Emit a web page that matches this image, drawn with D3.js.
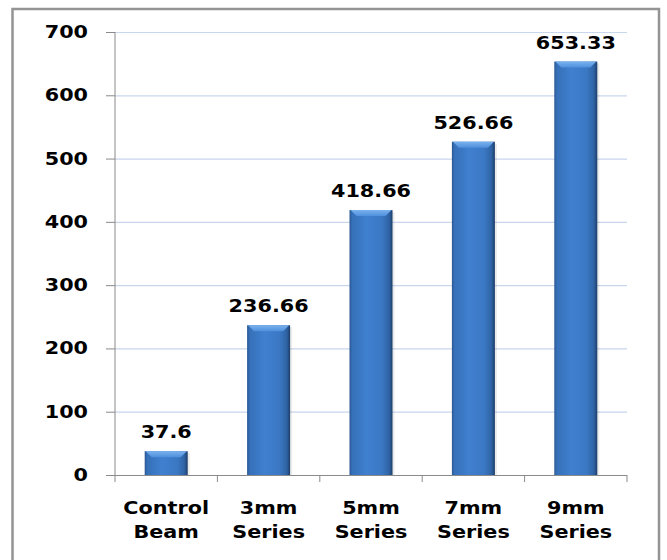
<!DOCTYPE html>
<html><head><meta charset="utf-8">
<script src="https://cdn.jsdelivr.net/npm/d3@7"></script>
<style>body{margin:0;background:#fff;} text{font-family:"DejaVu Sans",Verdana,sans-serif;font-weight:bold;fill:#000;}</style>
</head><body>
<svg id="chart" width="667" height="560"></svg>
<script>
const categories = [["Control","Beam"],["3mm","Series"],["5mm","Series"],["7mm","Series"],["9mm","Series"]];
const values = [37.6, 236.66, 418.66, 526.66, 653.33];
const labels = ["37.6","236.66","418.66","526.66","653.33"];
const yTicks = [0,100,200,300,400,500,600,700];

const SX = 1.22, FS = 17;
const svg = d3.select("#chart");
const m = {left:115, right:627, top:32, bottom:475};
svg.append("rect").attr("x",12.5).attr("y",9).attr("width",646.5).attr("height",560)
  .attr("fill","#fff").attr("stroke","#949494").attr("stroke-width",2.5);

const x = d3.scaleBand().domain(d3.range(categories.length)).range([m.left,m.right]).paddingInner(0.58).paddingOuter(0.29);
const xb = d3.scaleBand().domain(d3.range(categories.length)).range([m.left,m.right]);
const y = d3.scaleLinear().domain([0,700]).range([m.bottom,m.top]);

const defs = svg.append("defs");
const g = defs.append("linearGradient").attr("id","bar").attr("x1","0").attr("x2","1").attr("y1","0").attr("y2","0");
[[0,"#2a5692"],[0.06,"#3670b8"],[0.4,"#3f80cf"],[0.75,"#3b78c4"],[0.92,"#2f63a4"],[1,"#1d3d6a"]].forEach(([o,c])=>g.append("stop").attr("offset",o).attr("stop-color",c));
const gt = defs.append("linearGradient").attr("id","topb").attr("x1","0").attr("x2","0").attr("y1","0").attr("y2","1");
gt.append("stop").attr("offset",0).attr("stop-color","#7ab2ee");
gt.append("stop").attr("offset",1).attr("stop-color","#4f8fdc");

// gridlines
svg.append("g").selectAll("line").data(yTicks.filter(d=>d>0)).join("line")
  .attr("x1",m.left).attr("x2",m.right).attr("y1",d=>y(d)+0.5).attr("y2",d=>y(d)+0.5)
  .attr("stroke","#c8d6ee").attr("stroke-width",1.2);

// y axis
const ya = svg.append("g").attr("transform",`translate(${m.left},0)`)
  .call(d3.axisLeft(y).tickValues(yTicks).tickSize(9).tickFormat(d3.format("d")));
ya.select(".domain").attr("stroke","#8a8a8a").attr("d",`M0,${m.top}V${m.bottom}`);
ya.selectAll(".tick line").attr("stroke","#8a8a8a");
ya.selectAll(".tick text").attr("font-size",FS).attr("font-family","DejaVu Sans").attr("font-weight","bold").attr("fill","#000")
  .attr("x",-27/SX).attr("transform",`scale(${SX},1)`);

// x axis
const xa = svg.append("g").attr("transform",`translate(0,${m.bottom})`);
xa.append("line").attr("x1",m.left).attr("x2",m.right).attr("y1",0.5).attr("y2",0.5).attr("stroke","#8a8a8a");
xa.selectAll(".t").data(d3.range(categories.length+1)).join("line")
  .attr("x1",i=>i<categories.length? xb(i): m.right).attr("x2",i=>i<categories.length? xb(i): m.right)
  .attr("y1",0).attr("y2",7).attr("stroke","#8a8a8a");
xa.selectAll(".lbl").data(categories).join("text")
  .attr("text-anchor","middle").attr("font-size",FS)
  .attr("transform",(d,i)=>`translate(${xb(i)+xb.bandwidth()/2},0) scale(${SX},1)`)
  .each(function(d){
    const t=d3.select(this);
    d.forEach((s,k)=>t.append("tspan").attr("x",0).attr("y",39+k*24).text(s));
  });

// bars
const bars = svg.append("g").selectAll("g").data(values).join("g");
bars.append("rect").attr("x",(d,i)=>x(i)+2).attr("width",x.bandwidth()).attr("y",d=>y(d)+2)
  .attr("height",d=>y(0)-y(d)-2).attr("fill","#000").attr("opacity",0.08);
bars.append("rect").attr("x",(d,i)=>x(i)).attr("width",x.bandwidth())
  .attr("y",d=>y(d)).attr("height",d=>y(0)-y(d)).attr("fill","url(#bar)");
bars.append("path").attr("fill","url(#topb)").attr("d",(d,i)=>{
  const x0=x(i), w=x.bandwidth(), t=y(d), h=Math.min(6,(y(0)-y(d))/2);
  return `M${x0+1},${t}H${x0+w-1}L${x0+w-7},${t+h}H${x0+7}Z`;
});
bars.append("text").attr("text-anchor","middle").attr("font-size",FS)
  .attr("transform",(d,i)=>`translate(${x(i)+x.bandwidth()/2},${y(d)-13}) scale(${SX},1)`)
  .text((d,i)=>labels[i]);
</script>
</body></html>
